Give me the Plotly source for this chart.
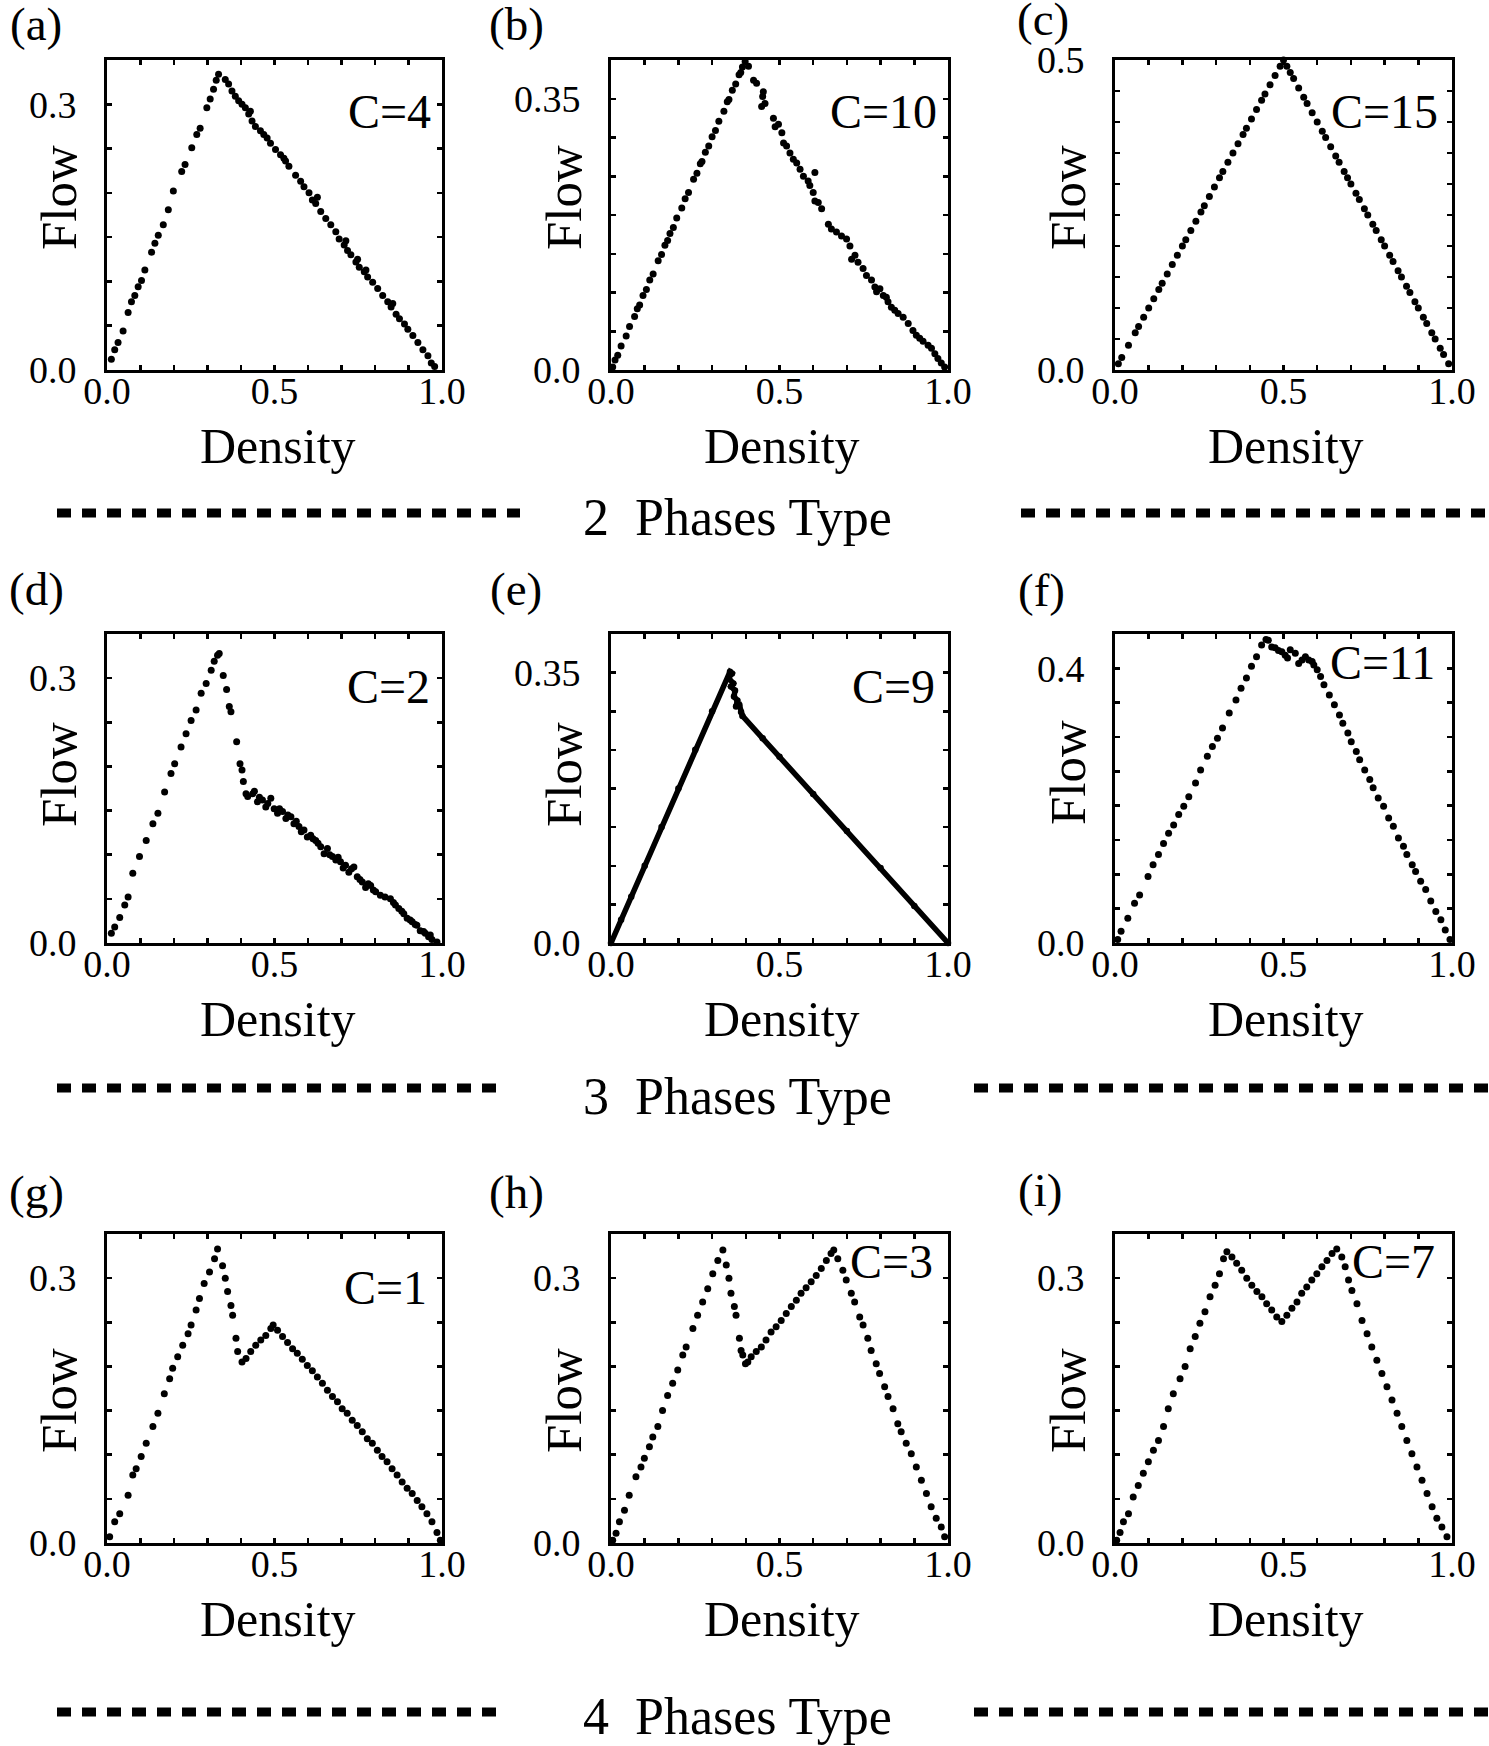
import plotly.graph_objects as go

W, H = 1489, 1746
FONT = "Liberation Serif"

# ---------------- data (density, flow) ----------------
a_density = [0.013,0.023,0.033,0.048,0.063,0.073,0.083,0.093,0.103,0.113,0.133,0.143,0.153,0.168,0.183,0.198,0.223,0.233,0.253,0.268,0.278,0.298,0.308,0.318,0.326,0.333,
             0.353,0.363,0.373,0.383,0.393,0.403,0.413,0.423,0.428,0.433,0.443,0.458,0.468,0.478,0.488,0.503,0.518,0.528,0.533,0.543,0.563,0.578,0.588,0.603,0.613,0.623,0.628,0.638,0.653,0.668,0.683,0.693,0.708,0.713,0.718,0.728,0.743,0.748,0.753,0.768,0.773,0.778,0.793,0.808,0.823,0.838,0.848,0.853,0.863,0.873,0.888,0.898,0.913,0.928,0.943,0.958,0.968,0.978]
a_flow = [0.012,0.023,0.031,0.044,0.065,0.077,0.084,0.094,0.101,0.113,0.133,0.143,0.152,0.164,0.181,0.202,0.224,0.232,0.251,0.266,0.273,0.296,0.306,0.317,0.327,0.334,
          0.328,0.323,0.315,0.309,0.304,0.300,0.296,0.289,0.292,0.281,0.275,0.270,0.266,0.262,0.256,0.249,0.243,0.239,0.236,0.230,0.220,0.213,0.207,0.200,0.192,0.188,0.195,0.179,0.171,0.164,0.156,0.148,0.141,0.146,0.135,0.130,0.122,0.125,0.116,0.111,0.113,0.105,0.099,0.092,0.084,0.077,0.071,0.075,0.063,0.058,0.052,0.046,0.039,0.031,0.023,0.016,0.008,0.004]

b_density = [0.005,0.012,0.020,0.030,0.045,0.055,0.070,0.078,0.085,0.095,0.105,0.115,0.125,0.140,0.150,0.160,0.168,0.175,0.185,0.195,0.210,0.220,0.230,0.245,0.255,0.265,0.270,0.280,0.290,0.300,0.310,0.320,0.335,0.345,0.350,0.360,0.370,0.380,0.385,0.390,0.398,
             0.408,0.423,0.432,0.447,0.450,0.452,0.457,0.482,0.487,0.497,0.507,0.512,0.521,0.531,0.541,0.551,0.561,0.571,0.585,0.590,0.600,0.605,0.605,0.615,0.625,0.645,0.654,0.669,0.684,0.699,0.709,0.714,0.724,0.733,0.748,0.758,0.773,0.783,0.788,0.798,0.808,0.817,0.822,0.832,0.842,0.852,0.867,0.882,0.896,0.906,0.916,0.926,0.941,0.951,0.961,0.970,0.980,0.990]
b_flow = [0.004,0.013,0.019,0.031,0.044,0.056,0.069,0.079,0.084,0.096,0.104,0.116,0.124,0.141,0.149,0.161,0.167,0.176,0.184,0.196,0.209,0.221,0.229,0.246,0.254,0.266,0.269,0.281,0.289,0.301,0.309,0.321,0.334,0.346,0.349,0.361,0.369,0.381,0.384,0.391,0.398,
          0.392,0.374,0.370,0.340,0.353,0.359,0.344,0.325,0.314,0.317,0.306,0.293,0.289,0.280,0.272,0.267,0.259,0.250,0.244,0.238,0.229,0.255,0.218,0.216,0.208,0.188,0.182,0.178,0.173,0.169,0.160,0.143,0.148,0.139,0.131,0.122,0.116,0.107,0.101,0.105,0.096,0.094,0.088,0.081,0.077,0.073,0.068,0.060,0.051,0.045,0.041,0.037,0.032,0.028,0.021,0.015,0.009,0.004]

c_density = [0.010,0.020,0.040,0.060,0.070,0.085,0.100,0.115,0.130,0.140,0.155,0.170,0.185,0.200,0.210,0.225,0.240,0.255,0.265,0.280,0.295,0.310,0.320,0.335,0.350,0.365,0.380,0.390,0.405,0.420,0.435,0.445,0.460,0.475,0.490,0.500,
             0.510,0.520,0.530,0.545,0.560,0.570,0.585,0.600,0.615,0.625,0.640,0.655,0.665,0.680,0.690,0.700,0.715,0.725,0.740,0.750,0.765,0.775,0.790,0.800,0.815,0.825,0.840,0.850,0.865,0.875,0.890,0.900,0.915,0.925,0.940,0.950,0.965,0.975,0.990]
c_flow = [0.010,0.020,0.040,0.060,0.070,0.085,0.100,0.115,0.130,0.140,0.155,0.170,0.185,0.200,0.210,0.225,0.240,0.255,0.265,0.280,0.295,0.310,0.320,0.335,0.350,0.365,0.380,0.390,0.405,0.420,0.435,0.445,0.460,0.475,0.490,0.500,
          0.490,0.480,0.470,0.455,0.440,0.430,0.415,0.400,0.385,0.375,0.360,0.345,0.335,0.320,0.310,0.300,0.285,0.275,0.260,0.250,0.235,0.225,0.210,0.200,0.185,0.175,0.160,0.150,0.135,0.125,0.110,0.100,0.085,0.075,0.060,0.050,0.035,0.025,0.010]

d_density = [0.013,0.023,0.038,0.053,0.063,0.077,0.097,0.117,0.137,0.152,0.172,0.191,0.202,0.221,0.236,0.251,0.266,0.281,0.296,0.311,0.320,0.330,0.335,
             0.347,0.357,0.365,0.370,0.387,0.397,0.403,0.407,0.415,0.420,
             0.435,0.449,0.464,0.474,0.489,0.499,0.509,0.524,0.534,0.549,0.558,0.573,0.588,0.598,0.608,0.623,0.638,0.648,0.658,0.673,0.683,0.697,0.712,0.722,0.737,0.747,0.762,0.772,0.787,0.802,0.816,0.846,0.861,0.871,0.886,0.896,0.911,0.925,0.935,0.950,0.960,0.970,0.985,
             0.440,0.455,0.480,0.515,0.540,0.565,0.580,0.615,0.630,0.665,0.690,0.705,0.730,0.755,0.780,0.795,0.830,0.855,0.880,0.905,0.920,0.945,0.965]
d_flow = [0.011,0.018,0.029,0.043,0.052,0.079,0.098,0.116,0.135,0.147,0.171,0.192,0.203,0.222,0.237,0.252,0.264,0.283,0.294,0.309,0.319,0.326,0.328,
          0.303,0.287,0.268,0.262,0.228,0.203,0.196,0.183,0.169,0.166,
          0.169,0.160,0.162,0.154,0.164,0.152,0.147,0.149,0.141,0.143,0.135,0.132,0.128,0.120,0.122,0.116,0.109,0.101,0.107,0.098,0.094,0.092,0.088,0.080,0.086,0.075,0.069,0.063,0.065,0.058,0.054,0.050,0.043,0.039,0.033,0.028,0.024,0.020,0.014,0.011,0.007,0.004,0.001,
          0.172,0.165,0.158,0.152,0.145,0.138,0.126,0.118,0.113,0.100,0.097,0.085,0.084,0.072,0.067,0.060,0.052,0.046,0.036,0.026,0.021,0.013,0.009]

e_density = [0.000,0.030,0.060,0.100,0.150,0.200,0.250,0.300,0.353,
             0.359,0.349,0.363,0.356,0.368,0.365,0.375,0.371,0.381,0.386,0.390,
             0.450,0.500,0.600,0.700,0.800,0.900,1.000]
e_flow = [0.000,0.030,0.060,0.100,0.150,0.200,0.250,0.300,0.351,
          0.349,0.343,0.336,0.332,0.327,0.319,0.314,0.306,0.308,0.299,0.294,
          0.265,0.241,0.193,0.145,0.097,0.048,0.000]

f_density = [0.008,0.018,0.038,0.058,0.073,0.098,0.113,0.129,0.144,0.159,0.174,0.189,0.204,0.219,0.239,0.254,0.274,0.289,0.304,0.319,0.339,0.359,0.374,0.390,0.405,0.420,0.435,0.448,
             0.455,0.465,0.475,0.485,0.495,0.505,0.512,0.520,0.535,0.545,0.555,0.565,0.575,0.585,0.590,
             0.600,0.610,0.620,0.636,0.651,0.666,0.676,0.691,0.701,0.716,0.726,0.741,0.756,0.766,0.781,0.797,0.812,0.826,0.841,0.856,0.866,0.882,0.892,0.907,0.922,0.937,0.952,0.967,0.980,0.994]
f_flow = [0.005,0.017,0.036,0.058,0.070,0.097,0.114,0.129,0.145,0.160,0.172,0.187,0.199,0.213,0.233,0.252,0.272,0.286,0.298,0.313,0.335,0.354,0.371,0.386,0.403,0.417,0.434,0.442,
          0.441,0.431,0.430,0.426,0.424,0.419,0.415,0.427,0.422,0.407,0.412,0.417,0.412,0.410,0.405,
          0.398,0.388,0.376,0.361,0.347,0.332,0.320,0.306,0.293,0.279,0.267,0.252,0.238,0.226,0.211,0.199,0.182,0.170,0.153,0.141,0.129,0.114,0.104,0.090,0.078,0.061,0.046,0.034,0.019,0.005]

g_density = [0.008,0.023,0.038,0.063,0.077,0.087,0.102,0.117,0.137,0.152,0.171,0.187,0.196,0.211,0.226,0.242,0.251,0.266,0.276,0.290,0.306,0.321,0.330,
             0.345,0.353,0.360,0.370,0.375,0.385,0.390,0.403,
             0.415,0.429,0.444,0.459,0.474,0.489,0.496,
             0.509,0.524,0.539,0.554,0.568,0.583,0.598,0.613,0.628,0.643,0.658,0.673,0.688,0.702,0.717,0.732,0.747,0.762,0.777,0.792,0.807,0.821,0.836,0.851,0.866,0.881,0.896,0.911,0.926,0.940,0.955,0.970,0.985,0.995]
g_flow = [0.007,0.024,0.033,0.054,0.077,0.084,0.098,0.113,0.132,0.147,0.169,0.186,0.198,0.211,0.224,0.237,0.247,0.264,0.277,0.294,0.307,0.322,0.333,
          0.314,0.300,0.285,0.269,0.258,0.232,0.217,0.205,
          0.209,0.217,0.224,0.230,0.235,0.243,0.247,
          0.241,0.234,0.227,0.220,0.215,0.208,0.201,0.195,0.188,0.181,0.173,0.166,0.160,0.152,0.147,0.139,0.133,0.126,0.118,0.113,0.105,0.098,0.092,0.084,0.077,0.069,0.062,0.056,0.048,0.041,0.033,0.024,0.012,0.003]

h_density = [0.005,0.015,0.025,0.040,0.054,0.074,0.089,0.099,0.114,0.124,0.139,0.153,0.168,0.183,0.198,0.213,0.223,0.243,0.257,0.272,0.287,0.302,0.317,0.332,
             0.342,0.350,0.356,0.366,0.371,0.381,0.386,0.391,0.399,0.406,
             0.416,0.431,0.446,0.460,0.475,0.490,0.505,0.520,0.535,0.550,0.564,0.579,0.594,0.609,0.624,0.639,0.653,0.661,
             0.673,0.688,0.698,0.713,0.723,0.738,0.748,0.762,0.772,0.787,0.797,0.812,0.822,0.837,0.851,0.861,0.876,0.891,0.906,0.921,0.936,0.950,0.965,0.980,0.990]
h_flow = [0.003,0.011,0.024,0.037,0.054,0.075,0.086,0.096,0.109,0.120,0.132,0.150,0.167,0.181,0.196,0.213,0.222,0.243,0.258,0.273,0.288,0.305,0.320,0.332,
          0.315,0.300,0.283,0.268,0.258,0.232,0.218,0.213,0.203,0.205,
          0.211,0.217,0.222,0.230,0.239,0.245,0.252,0.260,0.268,0.275,0.283,0.289,0.296,0.303,0.311,0.320,0.328,0.332,
          0.322,0.309,0.298,0.283,0.273,0.256,0.247,0.232,0.218,0.203,0.192,0.177,0.166,0.152,0.135,0.126,0.113,0.101,0.086,0.071,0.056,0.041,0.028,0.018,0.007]

i_density = [0.005,0.015,0.025,0.040,0.054,0.069,0.084,0.099,0.114,0.129,0.144,0.158,0.173,0.193,0.208,0.223,0.238,0.252,0.267,0.282,0.297,0.310,0.322,0.332,
             0.347,0.361,0.376,0.391,0.406,0.421,0.436,0.450,0.465,0.480,0.495,
             0.510,0.525,0.540,0.554,0.569,0.584,0.599,0.614,0.629,0.644,0.658,
             0.673,0.683,0.693,0.703,0.718,0.733,0.748,0.762,0.777,0.792,0.807,0.822,0.837,0.851,0.866,0.881,0.896,0.911,0.926,0.941,0.955,0.970,0.985]
i_flow = [0.003,0.012,0.024,0.033,0.052,0.065,0.079,0.092,0.105,0.116,0.132,0.152,0.169,0.186,0.200,0.220,0.234,0.249,0.262,0.279,0.292,0.305,0.322,0.330,
          0.324,0.317,0.309,0.300,0.292,0.285,0.279,0.271,0.264,0.256,0.251,
          0.258,0.266,0.273,0.283,0.290,0.298,0.305,0.313,0.320,0.328,0.333,
          0.324,0.313,0.298,0.286,0.271,0.252,0.237,0.222,0.207,0.192,0.177,0.162,0.147,0.132,0.116,0.101,0.086,0.071,0.056,0.041,0.028,0.018,0.007]

panel_letters = ["(a)", "(b)", "(c)", "(d)", "(e)", "(f)", "(g)", "(h)", "(i)"]
c_labels = ["C=4", "C=10", "C=15", "C=2", "C=9", "C=11", "C=1", "C=3", "C=7"]
flow_max = [0.35, 0.40, 0.50, 0.35, 0.40, 0.45, 0.35, 0.35, 0.35]
flow_tick_labels = [(0.0, 0.3), (0.0, 0.35), (0.0, 0.5), (0.0, 0.3), (0.0, 0.35), (0.0, 0.4), (0.0, 0.3), (0.0, 0.3), (0.0, 0.3)]
density_tick_labels = [0.0, 0.5, 1.0]
phase_titles = ["2\u00a0\u00a0Phases Type", "3\u00a0\u00a0Phases Type", "4\u00a0\u00a0Phases Type"]

series = [(a_density, a_flow), (b_density, b_flow), (c_density, c_flow),
          (d_density, d_flow), (e_density, e_flow), (f_density, f_flow),
          (g_density, g_flow), (h_density, h_flow), (i_density, i_flow)]

# ---------------- layout geometry (pixels) ----------------
cols = [(107, 442), (611, 948), (1115, 1452)]
rows = [(60, 370), (634, 943), (1234, 1543)]

def px(x):
    return x / W

def py(y):
    return 1 - y / H

letter_pos = [(36, 24), (516, 24), (1043, 19), (36, 589), (516, 589), (1041, 590), (36, 1192), (516, 1192), (1040, 1190)]
c_pos = [(433, 112), (939, 112), (1440, 112), (432, 687), (937, 687), (1437, 662), (429, 1287), (935, 1261), (1437, 1261)]
flow_pos = [(59, 198), (564, 198), (1068, 198), (59, 775), (564, 775), (1068, 773), (59, 1401), (564, 1401), (1068, 1401)]
dens_pos = [(278, 446), (782, 446), (1286, 446), (278, 1019), (782, 1019), (1286, 1019), (278, 1619), (782, 1619), (1286, 1619)]
phase_pos = [(737, 517), (737, 1096), (737, 1716)]
sep_lines = [((57, 520), (1021, 1489), 513), ((57, 501), (974, 1489), 1088), ((57, 501), (974, 1489), 1712)]

fig = go.Figure()
layout = dict(width=W, height=H, margin=dict(l=0, r=0, t=0, b=0, pad=0, autoexpand=False),
              paper_bgcolor="white", plot_bgcolor="white", showlegend=False, template="none")

def fmt(v, nd):
    return f"{v:.{nd}f}"

annotations = []
shapes = []
for k in range(9):
    r, c = divmod(k, 3)
    n = k + 1
    xs, ys = series[k]
    assert len(xs) == len(ys), (k, len(xs), len(ys))
    xname = "x" if n == 1 else f"x{n}"
    yname = "y" if n == 1 else f"y{n}"
    if k == 4:
        fig.add_trace(go.Scatter(x=xs, y=ys, mode="lines+markers", xaxis=xname, yaxis=yname,
                                 line=dict(color="black", width=5.5),
                                 marker=dict(color="black", size=6.5), cliponaxis=False,
                                 hoverinfo="skip"))
    else:
        fig.add_trace(go.Scatter(x=xs, y=ys, mode="markers", xaxis=xname, yaxis=yname,
                                 marker=dict(color="black", size=7, line=dict(width=0)),
                                 cliponaxis=False, hoverinfo="skip"))
    x0, x1 = cols[c]
    y0, y1 = rows[r]
    ymax = flow_max[k]
    nyt = int(round(ymax / 0.05))
    yvals = [round(i * 0.05, 2) for i in range(nyt + 1)]
    lab = flow_tick_labels[k]
    ytext = []
    for v in yvals:
        if abs(v - lab[0]) < 1e-9:
            ytext.append("0.0")
        elif abs(v - lab[1]) < 1e-9:
            ytext.append(fmt(lab[1], 2 if lab[1] == 0.35 else 1))
        else:
            ytext.append("")
    xvals = [round(i * 0.1, 1) for i in range(11)]
    xtext = [fmt(v, 1) if v in density_tick_labels else "" for v in xvals]
    common = dict(showline=True, linecolor="black", linewidth=3, mirror="ticks",
                  ticks="inside", ticklen=5, tickwidth=2.5, tickcolor="black",
                  showgrid=False, zeroline=False, fixedrange=True, automargin=False,
                  tickfont=dict(family=FONT, size=38, color="black"), tickmode="array")
    layout["xaxis" if n == 1 else f"xaxis{n}"] = dict(common, domain=[px(x0), px(x1)], range=[0, 1],
                                                     anchor=yname, tickvals=xvals, ticktext=xtext,
                                                     ticklabelstandoff=-15)
    layout["yaxis" if n == 1 else f"yaxis{n}"] = dict(common, domain=[py(y1), py(y0)], range=[0, ymax],
                                                     anchor=xname, tickvals=yvals, ticktext=ytext,
                                                     ticklabelstandoff=20)
    # texts
    lx, ly = letter_pos[k]
    annotations.append(dict(text=panel_letters[k], x=px(lx), y=py(ly), xref="paper", yref="paper",
                            showarrow=False, xanchor="center", yanchor="middle",
                            font=dict(family=FONT, size=47, color="black")))
    cx, cy = c_pos[k]
    annotations.append(dict(text=c_labels[k], x=px(cx), y=py(cy), xref="paper", yref="paper",
                            showarrow=False, xanchor="right", yanchor="middle",
                            font=dict(family=FONT, size=48, color="black")))
    fx, fy = flow_pos[k]
    annotations.append(dict(text="Flow", x=px(fx), y=py(fy), xref="paper", yref="paper",
                            showarrow=False, xanchor="center", yanchor="middle", textangle=-90,
                            font=dict(family=FONT, size=51, color="black")))
    dx, dy = dens_pos[k]
    annotations.append(dict(text="Density", x=px(dx), y=py(dy), xref="paper", yref="paper",
                            showarrow=False, xanchor="center", yanchor="middle",
                            font=dict(family=FONT, size=50, color="black")))

for j in range(3):
    tx, ty = phase_pos[j]
    annotations.append(dict(text=phase_titles[j], x=px(tx), y=py(ty), xref="paper", yref="paper",
                            showarrow=False, xanchor="center", yanchor="middle",
                            font=dict(family=FONT, size=52, color="black")))
    (l0, l1), (r0, r1), yy = sep_lines[j]
    for a0, a1 in [(l0, l1), (r0, r1)]:
        shapes.append(dict(type="line", xref="paper", yref="paper", x0=px(a0), x1=px(a1),
                           y0=py(yy), y1=py(yy), line=dict(color="black", width=9, dash="14px,11px")))

layout["annotations"] = annotations
layout["shapes"] = shapes
fig.update_layout(**layout)
fig.write_html("out.html", config={"displayModeBar": False, "staticPlot": True},
               post_script="document.body.style.margin='0px';document.body.style.padding='0px';document.body.style.overflow='hidden';")
